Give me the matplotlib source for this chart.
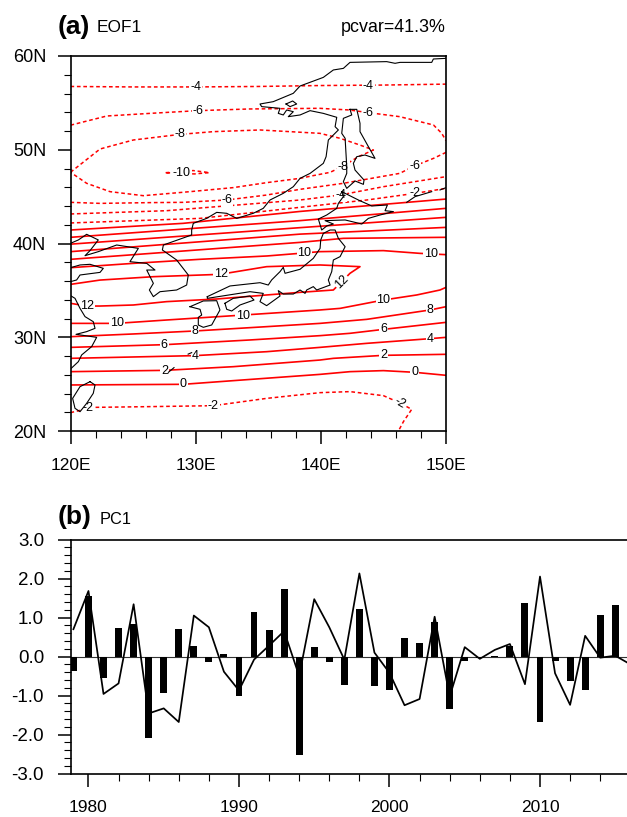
import numpy as np
import matplotlib
matplotlib.use('Agg')
import matplotlib.pyplot as plt
from matplotlib.ticker import MultipleLocator

plt.rcParams['font.family'] = ['Liberation Sans', 'DejaVu Sans']

# panel a: contour lines, (lon, lat)
neg4_north = [(120,56.75),(125,56.7),(130,56.7),(135,56.75),(140,56.85),(145,56.9),(150,57.0)]
neg6_north = [(120,52.62),(122.9,53.6),(126.35,53.88),(130.16,54.17),(134.3,54.35),(139.9,54.42),(142.3,54.24),
              (143.8,53.96),(146.3,53.53),(149,52.64),(149.66,51.75),(150,50.97)]
neg8_loop = [(120,47.6),(122.36,50.08),(125.02,51.04),(128.75,51.64),(131.41,51.93),(135.14,52.11),(139.93,51.75),
             (141.54,51.22),(143.13,50.5),(144.2,49.97),(143,49.26),(141.8,48.27),(140.74,47.59),(139.4,47.24),
             (138.34,46.95),(135.67,46.49),(133,45.96),(129.55,45.53),(125.82,45.1),(123.16,45.53),(121.29,46.42),(120,47.6)]
neg10_loop = [(127.6,47.55),(129.8,47.78),(131.1,47.56),(129.9,47.42),(127.6,47.55)]
neg6_south = [(120,44.39),(122.36,44.28),(126.35,44.36),(129,44.39),(132.47,44.64),(135.67,45.17),(138.34,45.78),
              (141.8,46.42),(146.3,47.48),(147.53,48.3),(149,49.08),(150,49.72)]
neg4_south = [(120,43.15),(127.68,43.5),(138.34,44.64),(141.54,45.17),(145,46.06),(150,47.13)]
neg2_north = [(120,42.19),(130.35,42.68),(138.34,43.86),(143.67,44.64),(147.53,45.35),(150,45.88)]
neg2_south = [(120,21.96),(121.82,22.52),(126.35,22.6),(131.41,22.7),(135.67,23.48),(139.93,24.09),(142.33,24.2),
              (145,23.77),(146.28,23.02),(147.26,22.31),(146.6,21.0),(146.2,20)]

zero_north = [(120,41.44),(129,42.15),(138.34,43.42),(150,44.74)]
pos2_north = [(120,40.66),(138.34,42.44),(150,43.75)]
pos4_north = [(120,39.93),(138.34,41.69),(150,42.79)]
pos6_north = [(120,39.13),(138.34,41.0),(145.5,41.44),(150,41.72)]
pos8_north = [(120,38.31),(138.34,40.12),(141.8,40.55),(150,40.66)]
pos10_north = [(120,37.42),(125,37.88),(130.3,38.31),(135.7,38.67),(138.3,38.95),(139.9,39.13),(145,39.24),(147.9,38.95),(150,38.81)]
pos12_loop = [(120,35.64),(122.36,36.1),(126.62,36.46),(131.94,36.71),(135.67,37.53),(139.93,37.71),(143.13,37.53),
              (142.33,36.82),(141.67,35.93),(141,35.04),(138.34,34.79),(135.67,34.51),(131.68,34.08),(127.68,33.8),
              (125.02,33.44),(122.36,33.33),(121.29,33.33),(120,33.62)]
pos10_south = [(120,31.48),(123.69,31.48),(127.68,31.84),(133,32.3),(139.93,32.91),(141.54,33.08),(145,33.97),(147.66,34.51),(149.52,35.04),(150,35.32)]
pos8_south = [(120,30.06),(125.02,30.35),(129.95,30.67),(135.67,31.13),(139.93,31.48),(143.67,31.91),(148.73,32.91),(150,33.26)]
pos6_south = [(120,28.92),(127.55,29.21),(134.34,29.71),(139.93,30.17),(142.33,30.42),(145,30.84),(150,31.59)]
pos4_south = [(120,27.75),(129.95,28.04),(135.67,28.46),(139.93,28.92),(143.67,29.35),(148.73,29.85),(150,29.99)]
pos2_south = [(120,26.33),(127.55,26.47),(133,26.86),(139.93,27.57),(141,27.75),(145,28.07),(150,28.18)]
zero_south = [(120,24.91),(129.01,24.98),(133,25.37),(139.93,26.04),(142.33,26.33),(145,26.44),(147.5,26.26),(150,25.94)]

dashed_lines = [neg4_north, neg6_north, neg8_loop, neg10_loop, neg6_south, neg4_south, neg2_north, neg2_south]
solid_lines = [zero_north, pos2_north, pos4_north, pos6_north, pos8_north, pos10_north, pos12_loop,
               pos10_south, pos8_south, pos6_south, pos4_south, pos2_south, zero_south]

# lon, lat, text, rotation
contour_labels = [(130,56.66,'-4',0),(143.8,56.85,'-4',0),(130.2,54.15,'-6',0),(143.8,53.96,'-6',0),
                  (128.75,51.64,'-8',0),(141.8,48.2,'-8',0),(128.9,47.5,'-10',0),(132.5,44.64,'-6',0),
                  (147.5,48.3,'-6',0),(141.6,45.2,'-4',0),(147.5,45.35,'-2',0),(121.3,33.33,'12',0),
                  (123.7,31.5,'10',0),(129.95,30.67,'8',0),(127.5,29.2,'6',0),(129.95,28.04,'4',0),
                  (127.5,26.45,'2',0),(129,24.98,'0',0),(121.4,22.5,'-2',0),(131.4,22.7,'-2',0),
                  (132,36.7,'12',0),(138.7,38.95,'10',0),(133.8,32.3,'10',0),(148.8,38.85,'10',0),
                  (141.7,35.9,'12',45),(145,33.97,'10',0),(148.73,32.9,'8',0),(145,30.84,'6',0),
                  (148.73,29.85,'4',0),(145,28.07,'2',0),(147.5,26.26,'0',0),(146.3,23.0,'-2',-30)]

# coastlines
asia_coast = [(150,59.75),(148.99,59.68),(148.86,59.32),(146.33,59.32),(145.93,59.22),(145.26,59.4),(142.33,59.32),
              (141.8,58.68),(141,58.51),(140.2,57.72),(138.34,56.8),(137.8,56.02),(136.2,55.13),(135.14,54.88),
              (135.27,54.6),(136.74,54.42),(136.6,53.88),(137,53.71),(137.27,54.24),(137.8,54.06),(137.4,53.53),
              (138.34,53.71),(139.14,54.17),(140.2,53.88),(141.27,53.46),(141.14,52.46),(141.4,52.11),(140.6,51.04),
              (140.42,49.26),(140.2,48.55),(139.14,47.48),(138.34,46.95),(137.8,46.06),(137,45.35),(135.94,44.64),
              (135.4,43.75),(134.6,43.22),(133.28,42.68),(132.48,43.22),(131.68,43.32),(130.88,42.68),(129.81,42.15),
              (129.68,41.44),(129.68,40.91),(127.42,39.84),(127.34,39.31),(128.48,38.24),(129.41,36.64),(129.28,35.57),
              (128.48,35.04),(127.15,34.86),(126.62,34.33),(126.3,35.04),(126.62,35.75),(126.09,37.17),(126.75,37.17),
              (126.09,37.88),(124.75,38.06),(125.42,39.48),(123.69,39.84),(122.22,39.13),(121.16,38.7),(121.56,39.24),
              (122.22,40.38),(121.29,40.98),(120.63,40.38),(120,40.02)]
shandong = [(120,37.42),(120.76,37.71),(121.56,37.78),(122.62,37.35),(122.36,36.92),(120.76,36.64),(120.49,36.11),(120,35.93)]
china_south = [(120,34.44),(120.36,34.15),(120.76,33.08),(121.16,32.2),(121.82,31.66),(121.96,30.95),(121.29,30.6),
               (120.44,30.31),(122.09,29.99),(121.69,29),(120.89,28.11),(120.63,27.4),(120,26.61)]
taiwan = [(121.56,25.26),(121.96,24.91),(121.82,24.02),(121.29,22.95),(120.76,22.06),(120.36,22.42),(120.17,23.48),(120.76,24.73),(121.56,25.26)]
kyushu = [(129.55,33.26),(130.61,33.87),(131.68,33.9),(131.94,32.91),(131.28,31.31),(130.61,31.06),(130.21,31.31),
          (130.21,32.12),(130.48,32.37),(130.35,32.98),(129.55,33.26)]
shikoku = [(132.34,33.62),(133,34.15),(134.34,34.4),(134.66,33.97),(133.54,33.44),(132.88,32.8),(132.48,32.98),(132.34,33.62)]
honshu = [(130.93,34.33),(132.74,35.47),(135.14,35.82),(135.8,35.57),(136.07,36.11),(136.74,37),(137,37.46),(137.14,36.82),
          (138.34,37.25),(139.4,38.42),(139.94,39.48),(139.99,40.37),(140.2,41.08),(140.74,41.44),(141.14,41.44),(141.4,40.55),
          (141.94,39.66),(141.54,38.6),(141,38.24),(140.87,37),(140.6,36.11),(140.74,35.57),(139.67,35.04),(139.4,35.4),
          (138.87,35.04),(138.74,34.68),(138.34,35.04),(137.8,34.61),(137,34.61),(136.6,34.97),(136.74,34.4),(135.67,33.37),
          (135.14,33.8),(135.4,34.68),(134.34,34.86),(130.93,34.15),(130.93,34.33)]
hokkaido = [(141.67,45.53),(143,44.64),(144.07,44),(145.32,44.11),(145.13,43.5),(145.8,43.4),(144.73,43.04),(143.8,42.68),
            (143.27,42.08),(141.94,42.51),(140.34,42.44),(141,42.08),(140.47,41.87),(140.07,41.44),(139.8,42.61),(140.47,43.04),
            (141.27,43.75),(141.4,44.28),(141.8,45),(141.67,45.53)]
sakhalin = [(142.33,54.31),(142.87,54.31),(143.13,52.82),(143.13,51.93),(143.8,50.33),(144.33,49.08),(143.53,49.44),
            (142.87,49.26),(142.6,48.55),(142.73,47.84),(143.45,46.77),(143.4,46.31),(142.73,46.67),(142.07,45.88),
            (141.8,46.6),(142.07,47.48),(142.07,48.2),(141.94,51.22),(141.67,51.75),(141.8,53.35),(142.47,53.71),(142.33,54.31)]
kuril_a = [(146.86,44.39),(147.53,45),(148.86,45.53)]
kuril_b = [(149.52,45.71),(150,45.96)]
shantar = [(137.22,54.88),(137.75,55.2),(138.07,54.88),(137.54,54.6),(137.22,54.88)]
okinawa = [(127.82,26.26),(128.27,26.76)]
amami = [(129.4,28.2),(129.68,28.36)]
coast_lines = [asia_coast, shandong, china_south, taiwan, kyushu, shikoku, honshu, hokkaido, sakhalin,
               kuril_a, kuril_b, shantar, okinawa, amami]

# panel b
bar_years = list(range(1979, 2016))
pc1_bars = [-0.37,1.55,-0.55,0.74,0.83,-2.08,-0.93,0.70,0.28,-0.14,0.07,-1.02,1.14,0.69,1.74,-2.53,0.25,-0.14,-0.72,
            1.23,-0.75,-0.87,0.48,0.34,0.89,-1.34,-0.12,-0.03,0.01,0.28,1.37,-1.67,-0.11,-0.63,-0.87,1.06,1.31]
line_years = list(range(1979, 2017))
pc1_line = [0.70,1.68,-0.96,-0.69,1.34,-1.46,-1.33,-1.68,1.05,0.75,-0.39,-0.87,-0.08,0.28,0.65,-0.50,1.47,0.75,-0.08,
            2.13,0.10,-0.42,-1.25,-1.09,1.02,-1.03,0.24,-0.06,0.17,0.32,-0.71,2.05,-0.43,-1.24,0.53,-0.03,0.02,-0.20]

W, H = 627, 817
fig = plt.figure(figsize=(W/100, H/100), dpi=100)

# map panel
ax1 = fig.add_axes([70.5/W, 1-431/H, 375.5/W, 375/H])
for line in solid_lines:
    xy = np.array(line)
    ax1.plot(xy[:,0], xy[:,1], color='red', lw=1.2, zorder=2)
for line in dashed_lines:
    xy = np.array(line)
    ax1.plot(xy[:,0], xy[:,1], color='red', lw=1.1, ls=(0,(2.4,1.8)), zorder=2)
for lon, lat, s, rot in contour_labels:
    ax1.text(lon, lat, s, fontsize=9, rotation=rot, ha='center', va='center', zorder=3,
             bbox=dict(fc='white', ec='none', pad=0.6))
for line in coast_lines:
    xy = np.array(line)
    ax1.plot(xy[:,0], xy[:,1], color='black', lw=0.8, zorder=4)
ax1.set_xlim(120, 150)
ax1.set_ylim(20, 60)
ax1.set_xticks([120,130,140,150])
ax1.set_xticklabels(['120E','130E','140E','150E'])
ax1.set_yticks([20,30,40,50,60])
ax1.set_yticklabels(['20N','30N','40N','50N','60N'])
ax1.xaxis.set_minor_locator(MultipleLocator(2))
ax1.yaxis.set_minor_locator(MultipleLocator(2))
ax1.tick_params(axis='both', which='major', length=9.4, width=1.1)
ax1.tick_params(axis='both', which='minor', length=5, width=0.8)
ax1.tick_params(axis='x', which='major', pad=10, labelsize=12.5)
ax1.tick_params(axis='y', which='major', pad=8, labelsize=13)
for sp in ax1.spines.values():
    sp.set_linewidth(1.2)

fig.text(58/W, 1-27/H, '(a)', fontsize=19, fontweight='bold', ha='left', va='center')
fig.text(97/W, 1-28/H, 'EOF1', fontsize=12.4, ha='left', va='center')
fig.text(446/W, 1-28/H, 'pcvar=41.3%', fontsize=12.9, ha='right', va='center')

# time series panel
ax2 = fig.add_axes([71/W, 1-773.5/H, (W-71)/W, 234/H])
ax2.bar(bar_years, pc1_bars, width=0.46, color='black', zorder=2)
ax2.axhline(0, color='#333333', lw=0.8, zorder=1)
ax2.plot(line_years, pc1_line, color='black', lw=1.25, zorder=3)
ax2.set_xlim(1978.84, 2015.78)
ax2.set_ylim(-3, 3)
ax2.set_xticks([1980,1990,2000,2010])
ax2.set_yticks([-3,-2,-1,0,1,2,3])
ax2.set_yticklabels(['-3.0','-2.0','-1.0','0.0','1.0','2.0','3.0'])
ax2.xaxis.set_minor_locator(MultipleLocator(2))
ax2.yaxis.set_minor_locator(MultipleLocator(0.2))
ax2.tick_params(axis='both', which='major', length=9.4, width=1.1)
ax2.tick_params(axis='both', which='minor', length=5, width=0.8)
ax2.tick_params(axis='x', which='major', pad=10, labelsize=12.5)
ax2.tick_params(axis='y', which='major', pad=10, labelsize=13.5)
ax2.spines['right'].set_visible(False)
for sp in ax2.spines.values():
    sp.set_linewidth(1.2)

fig.text(58/W, 1-517/H, '(b)', fontsize=19, fontweight='bold', ha='left', va='center')
fig.text(100/W, 1-519/H, 'PC1', fontsize=11.8, ha='left', va='center')

fig.savefig('out.png', dpi=100)
